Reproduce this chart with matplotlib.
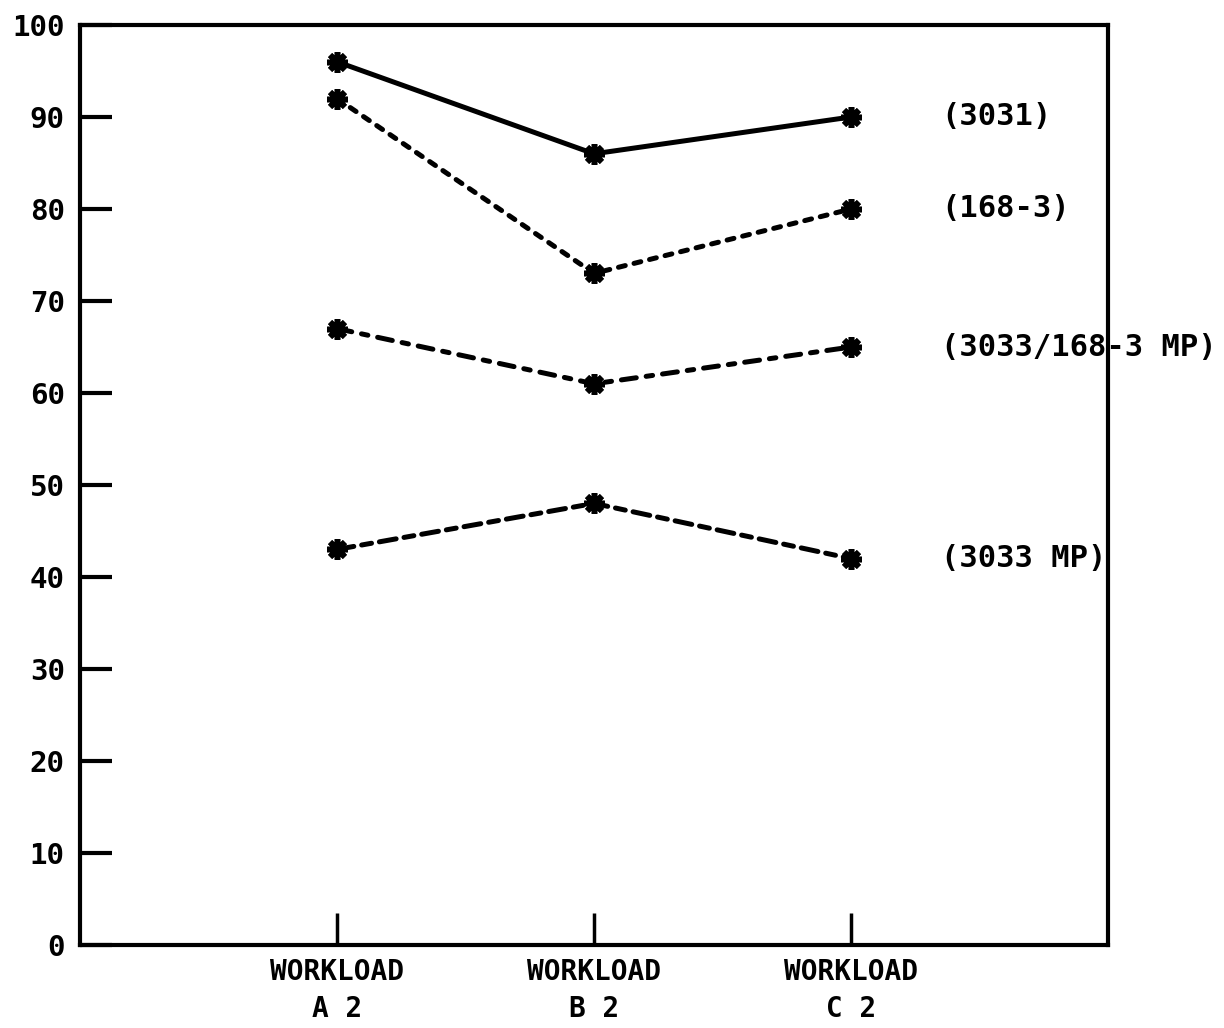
import matplotlib.pyplot as plt
import matplotlib

matplotlib.rcParams['font.family'] = ['DejaVu Sans Mono']
matplotlib.rcParams['font.weight'] = 'bold'

# data
categories = ['WORKLOAD\nA 2', 'WORKLOAD\nB 2', 'WORKLOAD\nC 2']
labels = ['(3031)', '(168-3)', '(3033/168-3 MP)', '(3033 MP)']
s3031 = [96, 86, 90]
s168 = [92, 73, 80]
s3033_168 = [67, 61, 65]
s3033mp = [43, 48, 42]
yticks = [0, 10, 20, 30, 40, 50, 60, 70, 80, 90, 100]

series = [s3031, s168, s3033_168, s3033mp]
styles = ['-', (0, (1.4, 1.8)), (0, (3.0, 2.0, 1.3, 2.0)), (0, (3.4, 1.6, 2.0, 1.6))]

fig = plt.figure(figsize=(12.24, 10.28), dpi=100)
ax = fig.add_axes([0.0654, 0.0807, 0.8399, 0.895])

x = [1, 2, 3]
for vals, ls, lab in zip(series, styles, labels):
    ax.plot(x, vals, color='black', lw=3.6, ls=ls, dash_capstyle='round',
            marker=(8, 2, 0), ms=15, mew=4, mec='black')
    ax.text(3.35, vals[-1], lab, fontsize=22, va='center', ha='left', clip_on=False)

ax.set_xlim(0, 4)
ax.set_ylim(0, 100)
ax.set_yticks(yticks)
ax.set_yticklabels([str(v) for v in yticks], fontsize=21, fontweight='bold')
ax.set_xticks(x)
ax.set_xticklabels(categories, fontsize=20, linespacing=1.45, fontweight='bold')
ax.tick_params(axis='y', direction='in', length=23, width=3, pad=11)
ax.tick_params(axis='x', direction='in', length=23, width=2.5, pad=9)
for sp in ax.spines.values():
    sp.set_linewidth(3)

plt.savefig('out.png', dpi=100)
